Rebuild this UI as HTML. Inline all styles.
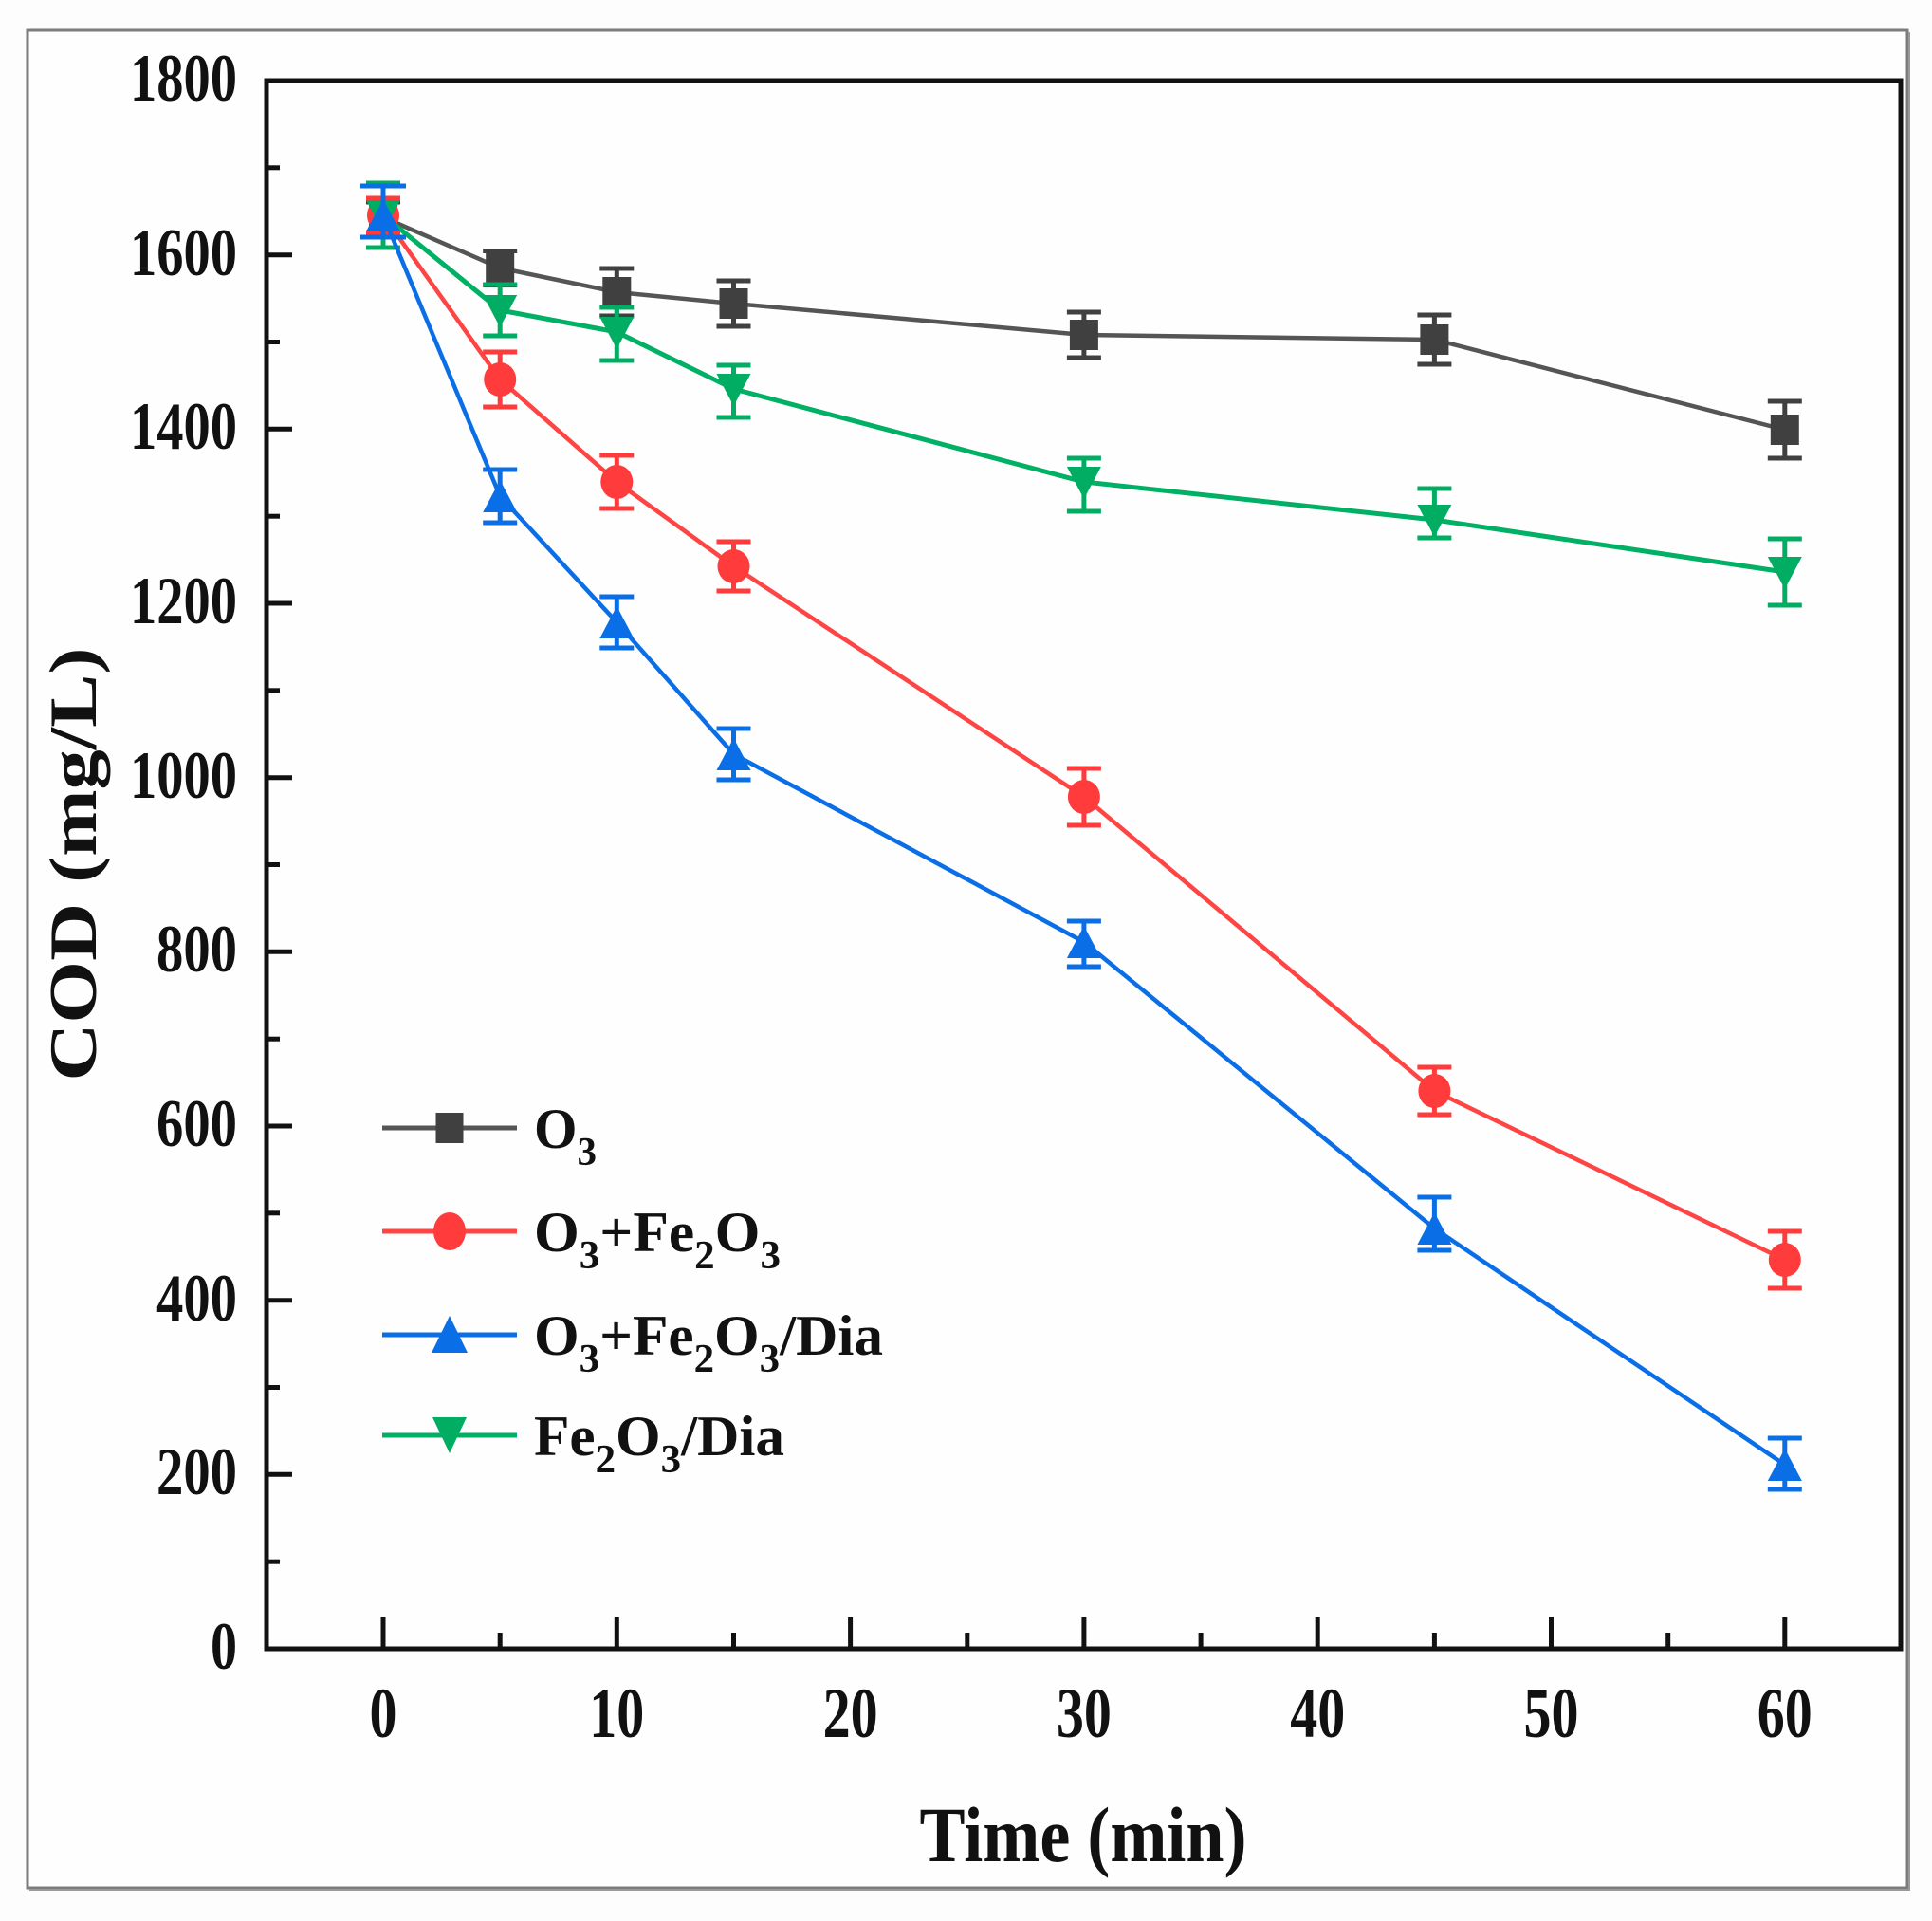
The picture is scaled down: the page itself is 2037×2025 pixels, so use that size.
<!DOCTYPE html>
<html>
<head>
<meta charset="utf-8">
<style>
html,body{margin:0;padding:0;background:#fdfdfd;}
svg{display:block;}
text{font-family:"Liberation Serif","Times New Roman",serif;font-weight:bold;fill:#111;}
</style>
</head>
<body>
<svg width="2037" height="2025" viewBox="0 0 2037 2025" xmlns="http://www.w3.org/2000/svg">
<rect x="0" y="0" width="2037" height="2025" fill="#fdfdfd"/>
<!-- outer frame -->
<rect x="29" y="32" width="1982" height="1958" fill="#fefefe" stroke="#7c7c7c" stroke-width="3"/>
<line x1="2013" y1="34" x2="2013" y2="1993" stroke="#9a9a9a" stroke-width="2"/>
<line x1="31" y1="1992" x2="2013" y2="1992" stroke="#9a9a9a" stroke-width="2"/>

<!-- plot frame -->
<rect x="281" y="85" width="1723" height="1653" fill="none" stroke="#111" stroke-width="5"/>

<!-- y ticks -->
<g stroke="#111" stroke-width="5">
<line x1="281" y1="1646.2" x2="295" y2="1646.2"/>
<line x1="281" y1="1554.3" x2="308" y2="1554.3"/>
<line x1="281" y1="1462.5" x2="295" y2="1462.5"/>
<line x1="281" y1="1370.7" x2="308" y2="1370.7"/>
<line x1="281" y1="1278.8" x2="295" y2="1278.8"/>
<line x1="281" y1="1187.0" x2="308" y2="1187.0"/>
<line x1="281" y1="1095.2" x2="295" y2="1095.2"/>
<line x1="281" y1="1003.3" x2="308" y2="1003.3"/>
<line x1="281" y1="911.5" x2="295" y2="911.5"/>
<line x1="281" y1="819.7" x2="308" y2="819.7"/>
<line x1="281" y1="727.8" x2="295" y2="727.8"/>
<line x1="281" y1="636.0" x2="308" y2="636.0"/>
<line x1="281" y1="544.2" x2="295" y2="544.2"/>
<line x1="281" y1="452.3" x2="308" y2="452.3"/>
<line x1="281" y1="360.5" x2="295" y2="360.5"/>
<line x1="281" y1="268.7" x2="308" y2="268.7"/>
<line x1="281" y1="176.8" x2="295" y2="176.8"/>
</g>

<!-- x ticks -->
<g stroke="#111" stroke-width="5">
<line x1="404" y1="1738" x2="404" y2="1705"/>
<line x1="527.2" y1="1738" x2="527.2" y2="1721"/>
<line x1="650.3" y1="1738" x2="650.3" y2="1705"/>
<line x1="773.5" y1="1738" x2="773.5" y2="1721"/>
<line x1="896.6" y1="1738" x2="896.6" y2="1705"/>
<line x1="1019.8" y1="1738" x2="1019.8" y2="1721"/>
<line x1="1142.9" y1="1738" x2="1142.9" y2="1705"/>
<line x1="1266.1" y1="1738" x2="1266.1" y2="1721"/>
<line x1="1389.2" y1="1738" x2="1389.2" y2="1705"/>
<line x1="1512.4" y1="1738" x2="1512.4" y2="1721"/>
<line x1="1635.5" y1="1738" x2="1635.5" y2="1705"/>
<line x1="1758.7" y1="1738" x2="1758.7" y2="1721"/>
<line x1="1881.8" y1="1738" x2="1881.8" y2="1705"/>
</g>

<!-- y tick labels -->
<g font-size="71" text-anchor="end">
<text x="250" y="1759" textLength="28" lengthAdjust="spacingAndGlyphs">0</text>
<text x="250" y="1575" textLength="85" lengthAdjust="spacingAndGlyphs">200</text>
<text x="250" y="1392" textLength="85" lengthAdjust="spacingAndGlyphs">400</text>
<text x="250" y="1208" textLength="85" lengthAdjust="spacingAndGlyphs">600</text>
<text x="250" y="1024" textLength="85" lengthAdjust="spacingAndGlyphs">800</text>
<text x="250" y="841" textLength="113" lengthAdjust="spacingAndGlyphs">1000</text>
<text x="250" y="657" textLength="113" lengthAdjust="spacingAndGlyphs">1200</text>
<text x="250" y="473" textLength="113" lengthAdjust="spacingAndGlyphs">1400</text>
<text x="250" y="290" textLength="113" lengthAdjust="spacingAndGlyphs">1600</text>
<text x="250" y="106" textLength="113" lengthAdjust="spacingAndGlyphs">1800</text>
</g>

<!-- x tick labels -->
<g font-size="75" text-anchor="middle">
<text x="404" y="1831" textLength="29" lengthAdjust="spacingAndGlyphs">0</text>
<text x="650.3" y="1831" textLength="58" lengthAdjust="spacingAndGlyphs">10</text>
<text x="896.6" y="1831" textLength="58" lengthAdjust="spacingAndGlyphs">20</text>
<text x="1142.9" y="1831" textLength="58" lengthAdjust="spacingAndGlyphs">30</text>
<text x="1389.2" y="1831" textLength="58" lengthAdjust="spacingAndGlyphs">40</text>
<text x="1635.5" y="1831" textLength="58" lengthAdjust="spacingAndGlyphs">50</text>
<text x="1881.8" y="1831" textLength="58" lengthAdjust="spacingAndGlyphs">60</text>
</g>

<!-- axis titles -->
<text x="1142" y="1962" font-size="83" text-anchor="middle" textLength="345" lengthAdjust="spacingAndGlyphs">Time (min)</text>
<text transform="translate(101,911) rotate(-90)" x="0" y="0" font-size="71" text-anchor="middle" textLength="457" lengthAdjust="spacingAndGlyphs">COD (mg/L)</text>

<!-- Gray series: O3 -->
<g>
<polyline points="404,229 527.2,282.5 650.3,308 773.5,320 1142.9,353 1512.4,358 1881.8,453" fill="none" stroke="#555" stroke-width="4.5" stroke-linejoin="round"/>
<g stroke="#404040" stroke-width="5" fill="none">
<path d="M404,213V245M386,213H422M386,245H422"/>
<path d="M527.2,264.5V300.5M509.2,264.5H545.2M509.2,300.5H545.2"/>
<path d="M650.3,283V333M632.3,283H668.3M632.3,333H668.3"/>
<path d="M773.5,296V344M755.5,296H791.5M755.5,344H791.5"/>
<path d="M1142.9,329V377M1124.9,329H1160.9M1124.9,377H1160.9"/>
<path d="M1512.4,332V384M1494.4,332H1530.4M1494.4,384H1530.4"/>
<path d="M1881.8,423V483M1863.8,423H1899.8M1863.8,483H1899.8"/>
</g>
<g fill="#404040">
<rect x="389" y="213" width="30" height="32"/>
<rect x="512.2" y="266.5" width="30" height="32"/>
<rect x="635.3" y="292" width="30" height="32"/>
<rect x="758.5" y="304" width="30" height="32"/>
<rect x="1127.9" y="337" width="30" height="32"/>
<rect x="1497.4" y="342" width="30" height="32"/>
<rect x="1866.8" y="437" width="30" height="32"/>
</g>
</g>

<!-- Red series: O3+Fe2O3 -->
<g>
<polyline points="404,227 527.2,400 650.3,508 773.5,597 1142.9,840 1512.4,1150 1881.8,1328" fill="none" stroke="#ff4444" stroke-width="4.5" stroke-linejoin="round"/>
<g stroke="#ff3b3b" stroke-width="5" fill="none">
<path d="M404,209V245M386,209H422M386,245H422"/>
<path d="M527.2,371V429M509.2,371H545.2M509.2,429H545.2"/>
<path d="M650.3,480V536M632.3,480H668.3M632.3,536H668.3"/>
<path d="M773.5,571V623M755.5,571H791.5M755.5,623H791.5"/>
<path d="M1142.9,810V870M1124.9,810H1160.9M1124.9,870H1160.9"/>
<path d="M1512.4,1125V1175M1494.4,1125H1530.4M1494.4,1175H1530.4"/>
<path d="M1881.8,1298V1358M1863.8,1298H1899.8M1863.8,1358H1899.8"/>
</g>
<g fill="#ff3b3b">
<ellipse cx="404" cy="227" rx="17" ry="18"/>
<ellipse cx="527.2" cy="400" rx="17" ry="18"/>
<ellipse cx="650.3" cy="508" rx="17" ry="18"/>
<ellipse cx="773.5" cy="597" rx="17" ry="18"/>
<ellipse cx="1142.9" cy="840" rx="17" ry="18"/>
<ellipse cx="1512.4" cy="1150" rx="17" ry="18"/>
<ellipse cx="1881.8" cy="1328" rx="17" ry="18"/>
</g>
</g>

<!-- Green series: Fe2O3/Dia -->
<g>
<polyline points="404,227 527.2,327 650.3,350 773.5,410 1142.9,508 1512.4,548 1881.8,603" fill="none" stroke="#00b065" stroke-width="5" stroke-linejoin="round"/>
<g stroke="#00ad62" stroke-width="5" fill="none">
<path d="M404,193V261M386,193H422M386,261H422"/>
<path d="M527.2,300V354M509.2,300H545.2M509.2,354H545.2"/>
<path d="M650.3,324V380M632.3,324H668.3M632.3,380H668.3"/>
<path d="M773.5,385V440M755.5,385H791.5M755.5,440H791.5"/>
<path d="M1142.9,483V539M1124.9,483H1160.9M1124.9,539H1160.9"/>
<path d="M1512.4,515V567M1494.4,515H1530.4M1494.4,567H1530.4"/>
<path d="M1881.8,568V638M1863.8,568H1899.8M1863.8,638H1899.8"/>
</g>
<g fill="#00ad62">
<polygon points="386,211 422,211 404,245"/>
<polygon points="509.2,311 545.2,311 527.2,345"/>
<polygon points="632.3,334 668.3,334 650.3,368"/>
<polygon points="755.5,394 791.5,394 773.5,428"/>
<polygon points="1124.9,492 1160.9,492 1142.9,526"/>
<polygon points="1494.4,532 1530.4,532 1512.4,566"/>
<polygon points="1863.8,587 1899.8,587 1881.8,621"/>
</g>
</g>

<!-- Blue series: O3+Fe2O3/Dia -->
<g>
<polyline points="404,227 527.2,523 650.3,656 773.5,795 1142.9,993 1512.4,1295 1881.8,1544" fill="none" stroke="#0a6fe6" stroke-width="4.5" stroke-linejoin="round"/>
<g stroke="#0a6ee6" stroke-width="5" fill="none">
<path d="M404,196V250M380,196H428M380,250H428"/>
<path d="M527.2,495V551M509.2,495H545.2M509.2,551H545.2"/>
<path d="M650.3,629V683M632.3,629H668.3M632.3,683H668.3"/>
<path d="M773.5,768V822M755.5,768H791.5M755.5,822H791.5"/>
<path d="M1142.9,971V1019M1124.9,971H1160.9M1124.9,1019H1160.9"/>
<path d="M1512.4,1262V1318M1494.4,1262H1530.4M1494.4,1318H1530.4"/>
<path d="M1881.8,1516V1570M1863.8,1516H1899.8M1863.8,1570H1899.8"/>
</g>
<g fill="#0a6ee6">
<polygon points="386,244 422,244 404,210"/>
<polygon points="509.2,540 545.2,540 527.2,506"/>
<polygon points="632.3,673 668.3,673 650.3,639"/>
<polygon points="755.5,812 791.5,812 773.5,778"/>
<polygon points="1124.9,1010 1160.9,1010 1142.9,976"/>
<polygon points="1494.4,1312 1530.4,1312 1512.4,1278"/>
<polygon points="1863.8,1561 1899.8,1561 1881.8,1527"/>
</g>
</g>

<!-- Legend -->
<g>
<line x1="403" y1="1189" x2="545" y2="1189" stroke="#555" stroke-width="5"/>
<rect x="459.5" y="1173" width="29" height="32" fill="#404040"/>
<text x="563" y="1210" font-size="60" textLength="66" lengthAdjust="spacingAndGlyphs">O<tspan font-size="42" dy="18">3</tspan></text>

<line x1="403" y1="1298" x2="545" y2="1298" stroke="#ff4444" stroke-width="5"/>
<ellipse cx="474" cy="1298" rx="17" ry="20" fill="#ff3b3b"/>
<text x="563" y="1319" font-size="60" textLength="260" lengthAdjust="spacingAndGlyphs">O<tspan font-size="42" dy="18">3</tspan><tspan dy="-18">+Fe</tspan><tspan font-size="42" dy="18">2</tspan><tspan dy="-18">O</tspan><tspan font-size="42" dy="18">3</tspan></text>

<line x1="403" y1="1407" x2="545" y2="1407" stroke="#0a6fe6" stroke-width="5"/>
<polygon points="455,1426 493,1426 474,1387" fill="#0a6ee6"/>
<text x="563" y="1428" font-size="60" textLength="368" lengthAdjust="spacingAndGlyphs">O<tspan font-size="42" dy="18">3</tspan><tspan dy="-18">+Fe</tspan><tspan font-size="42" dy="18">2</tspan><tspan dy="-18">O</tspan><tspan font-size="42" dy="18">3</tspan><tspan dy="-18">/Dia</tspan></text>

<line x1="403" y1="1513" x2="545" y2="1513" stroke="#00b065" stroke-width="5"/>
<polygon points="456,1494 492,1494 474,1532" fill="#00ad62"/>
<text x="563" y="1534" font-size="60" textLength="264" lengthAdjust="spacingAndGlyphs">Fe<tspan font-size="42" dy="18">2</tspan><tspan dy="-18">O</tspan><tspan font-size="42" dy="18">3</tspan><tspan dy="-18">/Dia</tspan></text>
</g>
</svg>
</body>
</html>
